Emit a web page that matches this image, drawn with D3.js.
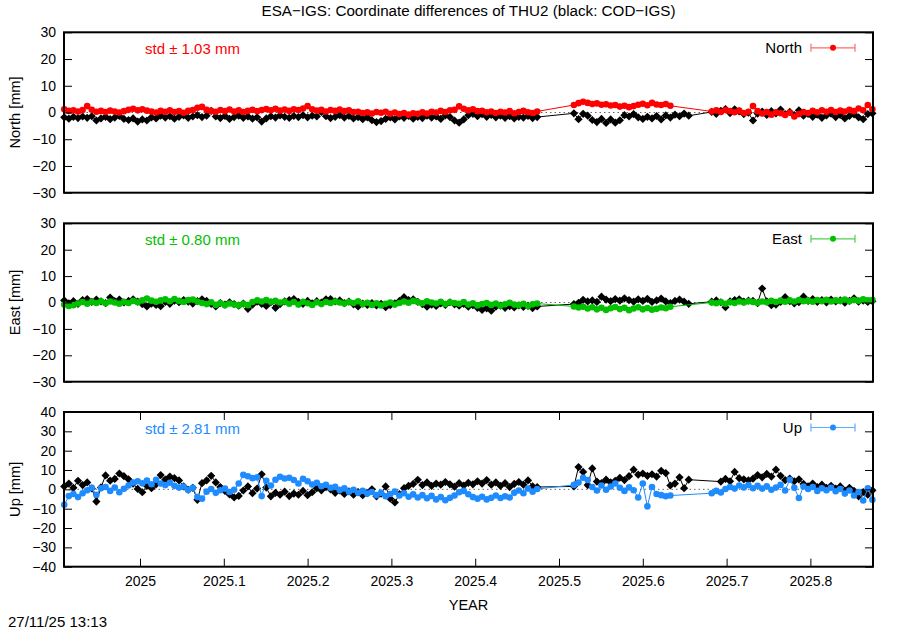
<!DOCTYPE html>
<html><head><meta charset="utf-8">
<script src="https://cdn.jsdelivr.net/npm/d3@7"></script>
<style>
body{margin:0;background:#fff}
svg{font-family:"Liberation Sans",Arial,Helvetica,sans-serif;display:block}
</style>
</head><body>
<svg id="chart" width="900" height="630"></svg>
<script>
// ---------- DATA ----------
// epoch: day of 2025 (0 = 1 Jan 2025)
const days = [
-33,-31,-29,-27,-25,-23,-21,-19,-17,-15,-13,-11,-9,-7,-5,-3,-1,1,3,5,7,9,11,13,15,17,19,21,23,25,27,29,31,33,35,37,39,41,43,45,47,49,51,53,55,57,59,61,63,65,67,69,71,73,75,77,79,81,83,85,87,89,91,93,95,97,99,101,103,105,107,109,111,113,115,117,119,121,123,125,127,129,131,133,135,137,139,141,143,145,147,149,151,153,155,157,159,161,163,165,167,169,171,173,
189,191,193,195,197,199,201,203,205,207,209,211,213,215,217,219,221,223,225,227,229,231,233,235,237,239,
249,251,253,255,257,259,261,263,265,267,269,271,273,275,277,279,281,283,285,287,289,291,293,295,297,299,301,303,305,307,309,311,313,315,317,319
];

const northESA = [
1.2,0.6,0.8,0.4,0.9,2.4,1.0,0.3,0.6,0.2,0.7,0.4,0.0,0.5,1.0,1.4,0.8,1.2,0.7,0.4,0.0,0.6,0.3,0.8,0.2,0.5,-0.1,0.6,0.9,1.8,2.1,1.0,0.6,0.3,0.9,0.5,1.1,0.4,0.8,0.2,0.6,1.0,0.5,0.9,1.3,0.8,1.4,0.7,1.1,0.6,1.2,0.9,1.5,2.4,1.2,0.7,1.0,0.4,0.9,0.6,1.1,0.5,0.8,0.2,0.3,-0.2,0.1,-0.4,0.2,-0.1,0.3,-0.5,0.0,-0.6,-0.2,-0.8,-0.3,-0.5,0.1,-0.4,0.3,0.0,0.6,0.2,0.8,1.0,2.3,1.4,0.8,1.2,0.5,0.6,0.1,0.4,-0.2,0.3,0.0,0.5,-0.3,0.2,0.6,0.1,-0.2,0.4,
2.8,3.5,4.0,3.6,3.2,3.4,2.9,3.1,2.6,2.8,2.2,2.5,2.0,2.4,2.9,3.3,2.7,3.6,3.0,2.8,3.2,2.5,null,null,null,null,
0.4,0.8,0.2,0.9,0.5,0.1,0.7,-0.2,0.3,2.4,0.5,-0.4,0.2,-0.8,0.1,-0.3,-0.9,0.0,-1.5,-0.6,0.2,-0.2,0.6,0.1,0.8,0.3,0.9,0.2,0.7,0.4,1.0,0.5,1.5,0.8,2.8,1.2
];
const northCOD = [
-1.8,-2.3,-1.6,-2.1,-1.5,-2.0,-1.4,-3.0,-2.2,-1.6,-2.5,-1.9,-1.3,-2.4,-2.8,-2.2,-3.4,-2.6,-3.0,-1.8,-2.2,-1.2,-1.9,-1.4,-2.3,-1.6,-1.1,-2.0,-1.5,-1.0,-1.7,-1.2,0.6,-1.5,-2.1,-1.3,-2.4,-1.7,-1.2,-2.0,-1.5,-2.3,-1.8,-3.4,-2.2,-1.4,-1.9,-1.1,-1.6,-2.0,-1.3,-1.7,-1.0,-1.8,-1.2,-1.5,0.2,-1.4,-2.1,-1.6,-1.0,-1.9,-1.3,-2.2,-1.7,-2.5,-1.8,-2.9,-3.6,-3.2,-2.4,-1.8,-2.6,-1.5,-2.0,-1.3,-2.3,-1.6,-2.1,-1.2,-1.9,-1.5,-2.4,-1.1,-1.7,-3.0,-3.8,-2.6,-1.0,-0.5,-1.4,-0.6,-1.6,-0.9,-1.8,-1.2,-2.0,-1.4,-2.2,-1.6,-1.9,-1.3,-2.1,-1.7,
-0.3,-2.5,-0.5,-1.2,-2.8,-3.6,-2.4,-3.9,-2.6,-3.8,-2.9,-1.0,-1.5,-0.6,-1.8,-2.4,-1.6,-2.2,-1.3,-2.6,-1.1,-1.9,-0.8,-1.4,-0.4,-1.2,
0.2,-0.5,0.6,1.3,-0.2,1.2,0.4,-0.6,-0.1,-3.0,-0.4,0.3,-0.9,0.5,-0.3,1.1,-0.6,0.2,-1.0,0.8,-1.2,-0.5,-1.6,-0.8,-2.0,-1.1,-0.4,-1.7,-0.9,-2.2,-1.3,-0.7,-1.8,-2.5,-0.6,-0.3
];
const eastESA = [
-0.8,-1.3,-1.0,-0.4,0.2,-0.5,0.3,-0.2,0.5,-0.3,0.4,0.0,-0.5,0.3,-0.2,0.6,0.1,0.8,1.5,0.7,0.3,0.8,1.2,0.5,1.3,0.6,0.2,0.9,1.1,0.4,-0.2,-0.6,0.1,-0.9,-0.3,-1.0,-0.4,-0.8,-1.1,-0.5,-1.0,0.2,0.8,0.4,0.9,0.3,0.6,0.0,0.4,-0.5,0.2,-0.8,0.3,-0.3,-0.9,0.1,-0.6,0.2,-0.2,0.4,0.0,-0.4,0.3,-0.2,0.5,-0.6,-0.1,-0.9,-0.3,-1.1,-0.5,0.0,-0.8,-0.2,0.4,-0.1,0.6,0.2,-0.3,0.5,0.0,-0.4,0.3,-0.6,0.1,-0.2,-0.5,0.2,-0.8,-0.3,-1.1,-0.6,-0.2,-0.9,-0.4,-1.2,-0.7,-0.1,-0.8,-1.0,-0.5,-1.3,-0.7,-0.4,
-1.5,-1.9,-1.6,-2.3,-1.8,-2.6,-2.0,-2.8,-2.2,-1.7,-2.5,-2.0,-2.9,-2.3,-1.8,-2.6,-2.1,-2.7,-2.4,-1.9,-2.2,-1.6,null,null,null,null,
0.0,-0.3,0.2,-0.5,0.1,-0.2,0.4,0.0,0.5,0.2,-0.1,0.4,0.1,0.6,0.2,0.7,0.3,0.8,0.4,0.9,0.5,0.7,0.3,0.9,0.5,1.0,0.4,0.8,0.6,1.1,0.5,0.9,0.7,1.2,0.8,0.9
];
const eastCOD = [
0.8,-0.3,0.5,-0.5,0.9,1.3,0.2,1.1,0.4,-0.2,1.9,0.5,1.1,0.0,0.6,1.2,0.3,-0.6,-1.5,-0.4,-0.9,-1.4,0.2,-0.5,0.7,0.1,0.9,0.3,-0.4,0.5,1.2,0.6,-0.5,-1.5,-0.2,-0.8,0.1,-0.6,-1.2,-0.4,-2.4,-0.8,0.3,-0.5,-1.3,0.1,-2.0,-0.6,0.4,0.9,1.3,0.2,-0.5,0.6,-0.3,0.5,0.0,1.2,1.3,0.4,0.8,-0.2,0.3,-0.7,-1.5,-0.4,-0.9,-0.2,-1.1,-0.5,-1.8,-1.0,-0.3,0.6,2.0,0.9,1.2,0.2,-0.6,-1.6,-0.8,-1.3,-0.3,-0.9,0.1,-0.7,-1.2,-0.5,-1.6,-1.0,-2.0,-2.8,-2.2,-3.1,-1.6,-1.2,-2.0,-1.4,-1.9,-1.1,-1.7,-1.3,-2.1,-1.5,
-0.6,-0.1,1.0,0.4,0.8,0.2,2.2,1.1,0.5,1.3,0.7,1.6,0.9,0.3,1.2,0.6,1.4,0.2,0.8,1.5,0.4,-0.2,0.6,1.1,0.3,-0.5,
0.3,0.8,0.1,-1.8,0.4,0.9,1.2,0.3,0.7,0.6,-0.2,5.3,0.4,-1.0,-0.8,0.2,2.0,0.5,-0.3,0.1,2.2,0.6,1.3,0.2,0.9,0.0,1.1,0.4,0.8,-0.1,0.6,1.6,0.3,0.7,0.2,0.5
];
const upESA = [
-8.0,-3.5,-2.4,-4.0,-2.0,-0.5,0.8,-2.8,0.6,1.2,-0.8,0.9,-1.5,0.3,2.0,3.5,4.2,3.1,4.5,2.6,5.0,3.0,2.2,3.4,1.8,0.9,1.5,-0.4,0.8,-4.0,-4.8,-1.2,0.2,-1.8,-0.5,0.4,-1.4,-0.2,3.0,7.5,6.8,5.8,6.2,-3.5,4.4,2.0,5.0,6.5,5.6,6.0,4.8,3.0,5.5,4.2,2.5,3.4,1.6,2.4,0.8,1.3,-0.4,0.5,-1.2,-0.2,-1.8,-0.8,-2.2,-1.4,-3.0,-1.8,-3.6,-2.4,-1.2,-3.2,-2.0,-3.8,-2.6,-4.2,-3.0,-4.6,-3.4,-5.2,-4.0,-5.6,-4.4,-3.2,-1.5,-0.8,-2.5,-4.0,-4.8,-3.8,-5.2,-4.4,-3.2,-4.5,-3.6,-4.2,-1.8,-0.6,-2.0,0.4,-1.2,0.2,
2.3,3.5,6.0,4.8,1.2,-0.6,2.0,-0.2,1.5,3.0,0.8,-0.8,1.0,-0.5,-4.2,3.0,-8.8,1.2,-2.4,-3.0,-3.6,-3.2,null,null,null,null,
-2.0,-0.8,-1.6,0.2,1.2,0.4,2.0,1.0,2.2,0.6,1.8,0.4,1.6,-0.2,0.9,2.3,-0.6,5.0,0.8,-4.5,1.5,0.2,1.2,-0.8,0.6,-0.5,0.8,-1.0,0.2,-2.2,-0.6,-3.2,-1.4,-5.8,0.6,-5.4
];
const upCOD = [
1.5,3.0,0.8,4.4,2.2,3.6,0.5,-6.3,1.0,7.2,4.5,5.4,8.2,6.8,5.2,3.0,0.2,-1.5,1.8,0.6,2.6,7.4,5.0,6.6,5.8,4.6,1.5,-0.2,0.8,-5.4,3.2,4.6,7.0,3.6,1.2,-0.8,-2.6,-4.2,-3.4,-0.6,1.5,-2.0,0.4,7.8,0.9,-3.6,-1.8,-2.8,-1.2,-3.5,-2.2,-2.8,-0.8,-3.0,-1.5,0.6,-0.5,1.2,0.0,-1.8,-0.6,-2.4,-1.0,-2.8,-1.4,-3.0,-2.0,0.0,-3.6,-2.2,1.5,-4.8,-6.8,-2.5,0.6,1.8,2.8,4.9,2.2,3.6,1.8,3.0,2.4,3.8,2.6,1.4,3.2,2.0,3.4,2.6,4.2,3.0,4.8,2.4,3.6,1.8,3.2,1.2,2.8,3.8,2.4,4.6,1.6,1.2,
1.5,11.5,9.0,2.2,10.8,4.0,3.2,5.0,3.6,4.4,6.0,4.8,6.8,10.2,7.6,8.2,7.0,7.8,6.6,9.6,8.4,2.0,3.0,6.2,0.6,5.0,
null,null,4.0,5.4,4.2,9.0,5.8,5.2,4.6,5.5,7.4,6.2,8.0,6.6,10.2,7.0,4.8,5.6,4.2,5.2,2.8,1.6,3.0,1.2,2.4,0.8,1.8,0.4,1.5,-0.6,0.8,-0.8,-3.6,-1.4,-2.8,-0.5
];

const componentNames = ["North","East","Up"];
const stdTexts = ["std \u00b1 1.03 mm","std \u00b1 0.80 mm","std \u00b1 2.81 mm"];
const yTicksNE = [-30,-20,-10,0,10,20,30];
const yTicksUp = [-40,-30,-20,-10,0,10,20,30,40];
const xTicks = [2025,2025.1,2025.2,2025.3,2025.4,2025.5,2025.6,2025.7,2025.8];
const xTickLabels = ["2025","2025.1","2025.2","2025.3","2025.4","2025.5","2025.6","2025.7","2025.8"];
const titleText = "ESA\u2212IGS: Coordinate differences of THU2 (black: COD\u2212IGS)";
const dateText = "27/11/25 13:13";

// ---------- LAYOUT / STYLE ----------
const L = 64, R = 873;
const panels = [
  {esa:northESA, cod:northCOD, color:"#ff0000", light:"#ff6a6a", domain:[-30,30], ticks:yTicksNE, top:32.3, bottom:192.7},
  {esa:eastESA,  cod:eastCOD,  color:"#00c000", light:"#50d050", domain:[-30,30], ticks:yTicksNE, top:223.3, bottom:381.7},
  {esa:upESA,    cod:upCOD,    color:"#1e8cff", light:"#5aacff", domain:[-40,40], ticks:yTicksUp, top:412, bottom:566.7}
];

const svg = d3.select("#chart");
const x = d3.scaleLinear().domain([2024.9093, 2025.8747]).range([L, R]);
const toYear = d => 2025 + d / 365;
const FS = 14, FS2 = 15;

svg.append("text").attr("x", (L+R)/2).attr("y", 16).attr("text-anchor","middle")
  .attr("font-size", 15.2).text(titleText);

const diamond = h => `M0,${-h}L${h},0L0,${h}L${-h},0Z`;

panels.forEach((p, pi) => {
  const y = d3.scaleLinear().domain(p.domain).range([p.bottom, p.top]);
  const g = svg.append("g");

  // zero dotted line
  g.append("line").attr("x1", L).attr("x2", R).attr("y1", y(0)).attr("y2", y(0))
    .attr("stroke", "#666").attr("stroke-width", 1).attr("stroke-dasharray", "1.5,3");

  const mk = arr => days.map((d,i) => ({x: toYear(d), v: arr[i]})).filter(o => o.v !== null);
  const codPts = mk(p.cod), esaPts = mk(p.esa);
  const line = d3.line().x(o => x(o.x)).y(o => y(o.v));

  // COD (black)
  g.append("path").datum(codPts).attr("d", line).attr("fill","none").attr("stroke","#000").attr("stroke-width",1);
  g.selectAll(".cod").data(codPts).enter().append("path")
    .attr("transform", o => `translate(${x(o.x)},${y(o.v)})`).attr("d", diamond(4.1)).attr("fill","#000");

  // ESA (coloured)
  g.append("path").datum(esaPts).attr("d", line).attr("fill","none").attr("stroke",p.color).attr("stroke-width",1);
  g.selectAll(".esa").data(esaPts).enter().append("circle")
    .attr("cx", o => x(o.x)).attr("cy", o => y(o.v)).attr("r", 3.3).attr("fill", p.color);

  // y axis left & right (inward ticks)
  const yl = g.append("g").attr("transform", `translate(${L},0)`)
    .call(d3.axisLeft(y).tickValues(p.ticks).tickSizeInner(-8).tickSizeOuter(0).tickPadding(8));
  yl.select(".domain").remove();
  yl.selectAll("line").attr("stroke","#000").attr("stroke-width",1);
  yl.selectAll("text").attr("font-size", FS).attr("font-family","Liberation Sans, Arial, sans-serif").attr("fill","#000");
  const yr = g.append("g").attr("transform", `translate(${R},0)`)
    .call(d3.axisRight(y).tickValues(p.ticks).tickSizeInner(-8).tickSizeOuter(0).tickFormat(""));
  yr.select(".domain").remove();
  yr.selectAll("line").attr("stroke","#000").attr("stroke-width",1);

  if (pi === 2) {
    const xb = g.append("g").attr("transform", `translate(0,${p.bottom})`)
      .call(d3.axisBottom(x).tickValues(xTicks).tickSizeInner(-8).tickSizeOuter(0).tickPadding(9)
        .tickFormat((d,i) => xTickLabels[i]));
    xb.select(".domain").remove();
    xb.selectAll("line").attr("stroke","#000");
    xb.selectAll("text").attr("font-size", FS).attr("font-family","Liberation Sans, Arial, sans-serif").attr("fill","#000");
    const xt = g.append("g").attr("transform", `translate(0,${p.top})`)
      .call(d3.axisTop(x).tickValues(xTicks).tickSizeInner(-8).tickSizeOuter(0).tickFormat(""));
    xt.select(".domain").remove();
    xt.selectAll("line").attr("stroke","#000");
  }

  // frame
  g.append("rect").attr("x", L).attr("y", p.top).attr("width", R-L).attr("height", p.bottom-p.top)
    .attr("fill","none").attr("stroke","#000").attr("stroke-width",2);

  // y label
  const cy = (p.top+p.bottom)/2;
  g.append("text").attr("transform", `translate(20,${cy}) rotate(-90)`).attr("text-anchor","middle")
    .attr("font-size", 14.6).text(componentNames[pi] + " [mm]");

  // std text
  g.append("text").attr("x", 145).attr("y", p.top + 21.5).attr("font-size", FS2).attr("fill", p.color).text(stdTexts[pi]);

  // legend
  const ly = p.top + 15.5;
  g.append("text").attr("x", 802).attr("y", ly + 5.5).attr("text-anchor","end").attr("font-size", FS2).text(componentNames[pi]);
  g.append("line").attr("x1",811).attr("x2",855).attr("y1",ly).attr("y2",ly).attr("stroke",p.light).attr("stroke-width",1.2);
  g.append("line").attr("x1",811).attr("x2",811).attr("y1",ly-4).attr("y2",ly+4).attr("stroke",p.light).attr("stroke-width",1.2);
  g.append("line").attr("x1",855).attr("x2",855).attr("y1",ly-4).attr("y2",ly+4).attr("stroke",p.light).attr("stroke-width",1.2);
  g.append("circle").attr("cx",833).attr("cy",ly).attr("r",3).attr("fill",p.color);
});

svg.append("text").attr("x", (L+R)/2).attr("y", 610).attr("text-anchor","middle").attr("font-size", 14.5).text("YEAR");
svg.append("text").attr("x", 8).attr("y", 627).attr("font-size", FS2).text(dateText);
</script>
</body></html>
